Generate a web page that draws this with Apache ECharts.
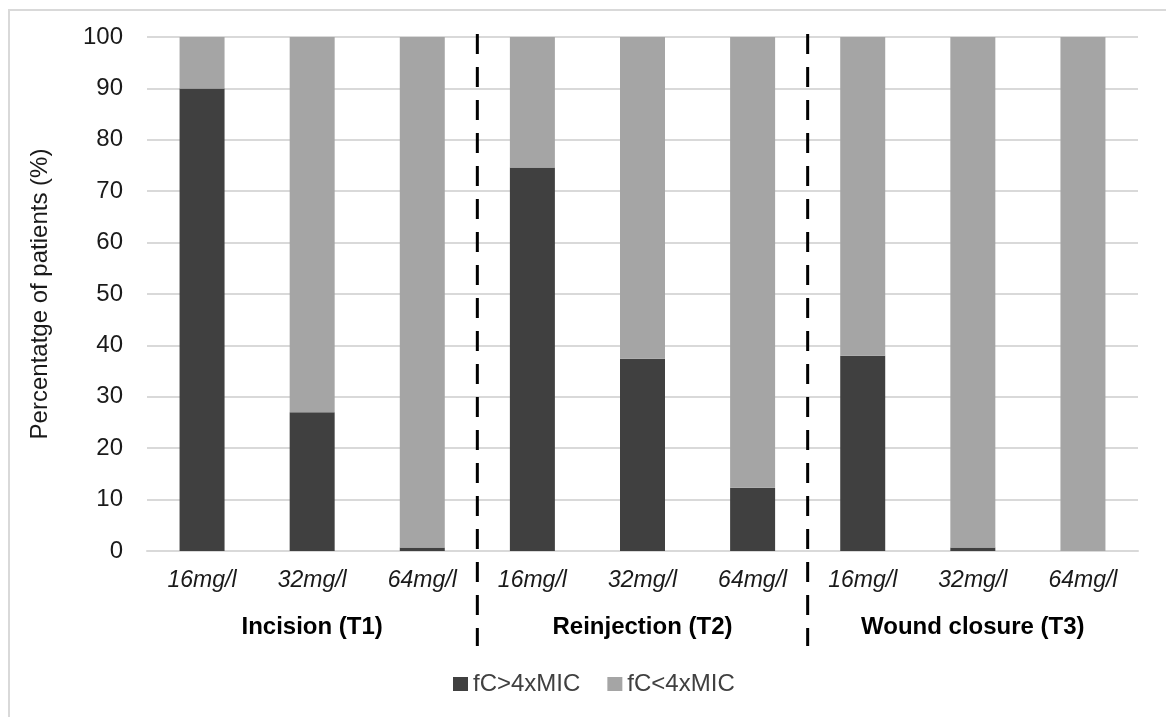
<!DOCTYPE html>
<html>
<head>
<meta charset="utf-8">
<script src="https://cdn.jsdelivr.net/npm/echarts@6/dist/echarts.min.js"></script>
<style>html,body{margin:0;padding:0;background:#fff}#c{width:1166px;height:717px}</style>
</head>
<body>
<div id="c"></div>
<script>
const doseLabels = ['16mg/l','32mg/l','64mg/l','16mg/l','32mg/l','64mg/l','16mg/l','32mg/l','64mg/l'];
const groupLabels = ['Incision (T1)','Reinjection (T2)','Wound closure (T3)'];
const above4MIC = [90, 27, 0.7, 74.6, 37.4, 12.3, 38, 0.7, 0];
const below4MIC = [10, 73, 99.3, 25.4, 62.6, 87.7, 62, 99.3, 100];
const separators = [3, 6];
const yTicks = [0,10,20,30,40,50,60,70,80,90,100];

const font = 'Liberation Sans, Arial, sans-serif';
const chart = echarts.init(document.getElementById('c'), null, {renderer:'canvas'});
chart.setOption({
  animation:false,
  backgroundColor:'#fff',
  graphic:[{type:'rect', shape:{x:9,y:10,width:1200,height:800}, style:{fill:'none', stroke:'#d9d9d9', lineWidth:2}, silent:true}],
  grid:{left:147, right:28, top:37, bottom:166},
  legend:{
    left:448, top:667, itemWidth:15, itemHeight:14, itemGap:27,
    icon:'rect',
    textStyle:{fontFamily:font, fontSize:24, color:'#404040'},
    data:['fC>4xMIC','fC<4xMIC']
  },
  xAxis:[
    {type:'category', data:doseLabels, axisLine:{lineStyle:{color:'#d9d9d9', width:2}}, axisTick:{show:false},
     axisLabel:{fontFamily:font, fontSize:23, fontStyle:'italic', color:'#1a1a1a', margin:18}},
    {type:'category', data:groupLabels, position:'bottom', axisLine:{show:false}, axisTick:{show:false},
     axisLabel:{fontFamily:font, fontSize:24, fontWeight:'bold', color:'#000', margin:64}},
    {type:'value', min:0, max:9, show:false}
  ],
  yAxis:{
    type:'value', min:0, max:100, interval:10,
    name:'Percentatge of patients (%)', nameLocation:'middle', nameGap:95,
    nameTextStyle:{fontFamily:font, fontSize:24, color:'#1a1a1a'},
    axisLine:{show:false}, axisTick:{show:false},
    axisLabel:{fontFamily:font, fontSize:24, color:'#1a1a1a', margin:24,
      formatter:function(v){return yTicks.indexOf(v)>=0 ? String(v) : '';}},
    splitLine:{lineStyle:{color:'#d9d9d9', width:2}}
  },
  series:[
    {name:'fC>4xMIC', type:'bar', stack:'s', xAxisIndex:0, data:above4MIC, barWidth:45,
     itemStyle:{color:'#404040'}},
    {name:'fC<4xMIC', type:'bar', stack:'s', xAxisIndex:0, data:below4MIC, barWidth:45,
     itemStyle:{color:'#a5a5a5'}},
    {type:'custom', xAxisIndex:2, clip:false, silent:true, data:separators.map(v=>[v]),
     renderItem:function(params, api){
       const top = api.coord([api.value(0), 100]);
       const bot = api.coord([api.value(0), 0]);
       return {type:'line', shape:{x1:top[0], y1:top[1]-3, x2:bot[0], y2:bot[1]+95},
         style:{stroke:'#000', lineWidth:3, lineDash:[20,13]}};
     }}
  ]
});
</script>
</body>
</html>
